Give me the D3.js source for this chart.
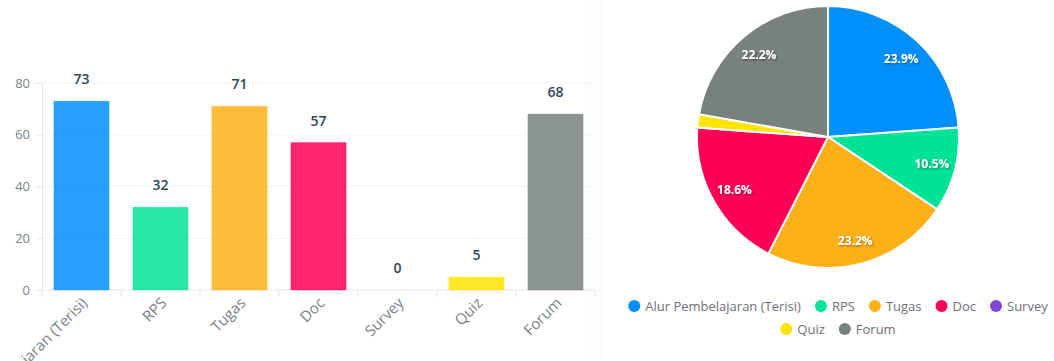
<!DOCTYPE html>
<html>
<head>
<meta charset="utf-8">
<script src="https://cdn.jsdelivr.net/npm/d3@7"></script>
<style>
  body { margin: 0; background: #fff; }
  svg { display: block; font-family: "Open Sans", "Noto Sans", sans-serif; }
</style>
</head>
<body>
<svg id="chart" width="1054" height="361"></svg>
<script>
// data
const categories = ["Alur Pembelajaran (Terisi)", "RPS", "Tugas", "Doc", "Survey", "Quiz", "Forum"];
const values = [73, 32, 71, 57, 0, 5, 68];
const yTicks = [0, 20, 40, 60, 80];
const colors = ["#008FFB", "#00E396", "#FEB019", "#FF0054", "#8146D9", "#FFE500", "#78817F"];

const svg = d3.select("#chart");
const FONT = "'Open Sans', sans-serif";

// bar chart (kiri)
const x = d3.scaleBand()
    .domain(categories)
    .range([42, 595])
    .paddingInner(0.3)
    .paddingOuter(0.15);
const y = d3.scaleLinear().domain([0, 80]).range([290, 83]);

// panel strip di kanan
svg.append("rect").attr("x", 584).attr("y", 0).attr("width", 20).attr("height", 361).attr("fill", "#fdfdfd");

// grid
svg.append("g").selectAll("line")
    .data(yTicks.filter(d => d > 0))
    .join("line")
    .attr("x1", 42).attr("x2", 595)
    .attr("y1", d => y(d)).attr("y2", d => y(d))
    .attr("stroke", "#f1f3f4");

const yAxis = svg.append("g")
    .attr("transform", "translate(42,0)")
    .call(d3.axisLeft(y).tickValues(yTicks).tickSize(6).tickPadding(6));
yAxis.select(".domain").attr("stroke", "#e3e5e8");
yAxis.selectAll(".tick line").attr("stroke", "#e3e5e8");
yAxis.selectAll("text").attr("fill", "#7b7f88").style("font-size", "13px").style("font-family", FONT);

const xAxisGroup = svg.append("g").attr("transform", "translate(0,290)");
xAxisGroup.append("line").attr("x1", 42).attr("x2", 595).attr("stroke", "#e3e5e8");
// tick marks between bands
const bounds = [42].concat(categories.map(c => x(c) + x.bandwidth() / 2 + x.step() / 2));
xAxisGroup.selectAll("line.tk")
    .data(bounds)
    .join("line")
    .attr("class", "tk")
    .attr("x1", d => d).attr("x2", d => d)
    .attr("y1", 0).attr("y2", 7)
    .attr("stroke", "#e3e5e8");
xAxisGroup.selectAll("text")
    .data(categories)
    .join("text")
    .attr("transform", d => `translate(${x(d) + x.bandwidth() / 2 + 7},${14}) rotate(-45)`)
    .attr("text-anchor", "end")
    .attr("fill", "#7b7f88")
    .style("font-size", "15px")
    .text(d => d);

const data = categories.map((c, i) => ({ name: c, value: values[i], color: colors[i] }));

svg.append("g").selectAll("rect")
    .data(data)
    .join("rect")
    .attr("x", d => x(d.name))
    .attr("y", d => y(d.value))
    .attr("width", x.bandwidth())
    .attr("height", d => y(0) - y(d.value))
    .attr("fill", d => d.color)
    .attr("fill-opacity", 0.85)
    .attr("stroke", d => d.color)
    .attr("stroke-opacity", 0.25)
    .attr("stroke-width", 1);

svg.append("g").selectAll("text")
    .data(data)
    .join("text")
    .attr("x", d => x(d.name) + x.bandwidth() / 2)
    .attr("y", d => y(d.value) - 17)
    .attr("text-anchor", "middle")
    .attr("fill", "#304758")
    .style("font-size", "14px")
    .style("font-weight", "600")
    .text(d => d.value);

// pie (kanan)
const defs = svg.append("defs");
const f = defs.append("filter").attr("id", "shadow").attr("x", "-20%").attr("y", "-20%").attr("width", "140%").attr("height", "140%");
f.append("feDropShadow").attr("dx", 1).attr("dy", 1).attr("stdDeviation", 1).attr("flood-color", "#000").attr("flood-opacity", 0.45);

const cx = 828, cy = 137, R = 131;
const total = d3.sum(values);
const pie = d3.pie().sort(null).value(d => d.value);
const arc = d3.arc().innerRadius(0).outerRadius(R);
const labelArc = d3.arc().innerRadius(R * 0.82).outerRadius(R * 0.82);

const pg = svg.append("g").attr("transform", `translate(${cx},${cy})`);
pg.selectAll("path")
    .data(pie(data))
    .join("path")
    .attr("d", arc)
    .attr("fill", d => d.data.color)
    .attr("stroke", "#fff")
    .attr("stroke-width", d => d.data.value > 0 ? 2 : 0);

pg.selectAll("text")
    .data(pie(data).filter(d => d.data.value / total > 0.05))
    .join("text")
    .attr("transform", d => `translate(${labelArc.centroid(d)})`)
    .attr("text-anchor", "middle")
    .attr("dy", "0.35em")
    .attr("fill", "#fff")
    .attr("filter", "url(#shadow)")
    .style("font-size", "12px")
    .style("font-weight", "bold")
    .text(d => (d.data.value / total * 100).toFixed(1) + "%");

// legend
const lg = svg.append("g");
const items = lg.selectAll("g")
    .data(data)
    .join("g");
items.append("circle").attr("r", 6).attr("fill", d => d.color);
items.append("text")
    .attr("x", 11)
    .attr("dy", "0.35em")
    .attr("fill", "#6e7079")
    .style("font-size", "13px")
    .text(d => d.name);

const maxRow = 440, gap = 14;
const rows = [[]];
let rowW = 0;
items.each(function (d) {
    const w = 11 + this.querySelector("text").getComputedTextLength() + 6;
    if (rowW + w > maxRow && rows[rows.length - 1].length) { rows.push([]); rowW = 0; }
    rows[rows.length - 1].push({ node: this, w: w });
    rowW += w + gap;
});
rows.forEach((row, ri) => {
    const full = d3.sum(row, r => r.w) + gap * (row.length - 1);
    let px = 838 - full / 2 + 6;
    row.forEach(r => {
        d3.select(r.node).attr("transform", `translate(${px},${306 + ri * 23})`);
        px += r.w + gap;
    });
});
</script>
</body>
</html>
